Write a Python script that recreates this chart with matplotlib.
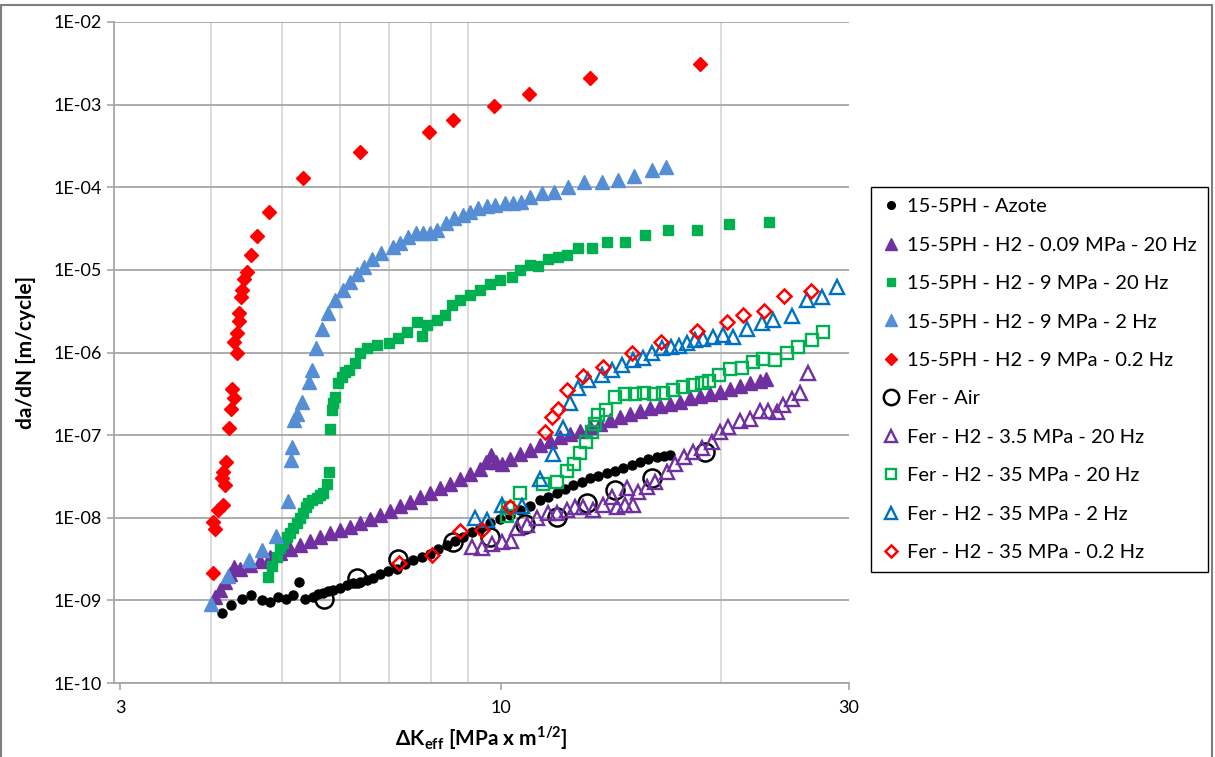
import math
import matplotlib
matplotlib.use("Agg")
import matplotlib.pyplot as plt
from matplotlib.ticker import FixedLocator, FuncFormatter, NullLocator
from matplotlib.patches import Rectangle

# ---- data ----------------------------------------------------------------
# 15-5PH - Azote
azote_dk = [4.13, 4.26, 4.40, 4.54, 4.69, 4.81, 4.94, 5.07, 5.18, 5.27, 5.38, 5.52,
            5.60, 5.70, 5.78, 5.88, 6.00, 6.13, 6.26, 6.40, 6.53, 6.67, 6.81, 6.99,
            7.18, 7.37, 7.57, 7.77, 7.98, 8.18, 8.41, 8.64, 8.87, 9.10, 9.35, 9.65,
            9.96, 10.28, 10.61, 10.95, 11.30, 11.59, 11.91, 12.23, 12.55, 12.89,
            13.23, 13.57, 13.95, 14.32, 14.70, 15.10, 15.50, 15.89, 16.34, 16.72, 17.04]
azote_da = [7.0e-10, 8.7e-10, 1.05e-9, 1.16e-9, 1.01e-9, 9.6e-10, 1.10e-9, 1.05e-9,
            1.16e-9, 1.66e-9, 1.05e-9, 1.10e-9, 1.19e-9, 1.22e-9, 1.29e-9, 1.33e-9,
            1.42e-9, 1.53e-9, 1.61e-9, 1.68e-9, 1.75e-9, 1.84e-9, 2.07e-9, 2.26e-9,
            2.43e-9, 2.74e-9, 3.07e-9, 3.33e-9, 3.69e-9, 4.17e-9, 4.66e-9, 5.21e-9,
            5.87e-9, 6.69e-9, 7.48e-9, 8.60e-9, 9.61e-9, 1.07e-8, 1.24e-8, 1.40e-8,
            1.63e-8, 1.77e-8, 1.97e-8, 2.22e-8, 2.48e-8, 2.72e-8, 2.99e-8, 3.19e-8,
            3.44e-8, 3.66e-8, 3.95e-8, 4.33e-8, 4.75e-8, 5.12e-8, 5.46e-8, 5.64e-8, 5.72e-8]

# 15-5PH - H2 - 0.09 MPa - 20 Hz
h009_dk = [4.05, 4.11, 4.18, 4.24, 4.30, 4.38, 4.52, 4.67, 4.81, 4.97, 5.13, 5.29,
           5.46, 5.64, 5.82, 6.00, 6.20, 6.40, 6.60, 6.81, 7.03, 7.26, 7.49, 7.73,
           7.98, 8.24, 8.50, 8.78, 9.06, 9.35, 9.53, 9.68, 9.83, 10.02, 10.28, 10.61,
           10.95, 11.30, 11.66, 12.03, 12.42, 12.82, 13.23, 13.66, 14.09, 14.55, 15.01,
           15.50, 15.99, 16.51, 17.04, 17.59, 18.15, 18.74, 19.34, 19.96, 20.60, 21.26,
           21.94, 22.65, 23.07]
h009_da = [1.09e-9, 1.33e-9, 1.66e-9, 2.07e-9, 2.52e-9, 2.39e-9, 2.67e-9, 2.98e-9,
           3.33e-9, 3.73e-9, 4.17e-9, 4.66e-9, 5.21e-9, 5.82e-9, 6.50e-9, 7.07e-9,
           7.69e-9, 8.60e-9, 9.61e-9, 1.07e-8, 1.20e-8, 1.38e-8, 1.54e-8, 1.77e-8,
           1.98e-8, 2.28e-8, 2.55e-8, 2.93e-8, 3.37e-8, 3.88e-8, 4.71e-8, 5.72e-8,
           4.71e-8, 4.45e-8, 5.12e-8, 5.89e-8, 6.58e-8, 7.56e-8, 8.45e-8, 9.45e-8,
           1.03e-7, 1.12e-7, 1.25e-7, 1.36e-7, 1.52e-7, 1.65e-7, 1.79e-7, 1.95e-7,
           2.12e-7, 2.24e-7, 2.37e-7, 2.51e-7, 2.80e-7, 2.96e-7, 3.13e-7, 3.31e-7,
           3.60e-7, 3.92e-7, 4.26e-7, 4.50e-7, 4.76e-7]

# 15-5PH - H2 - 9 MPa - 20 Hz
h9_20_dk = [4.79, 4.84, 4.92, 4.97, 5.02, 5.08, 5.13, 5.18, 5.24, 5.29, 5.35, 5.39,
            5.43, 5.50, 5.58, 5.64, 5.70, 5.76, 5.80, 5.82, 5.85, 5.88, 5.91, 5.97,
            6.04, 6.10, 6.17, 6.30, 6.40, 6.53, 6.74, 7.00, 7.22, 7.41, 7.65, 7.77,
            7.90, 8.15, 8.37, 8.55, 8.78, 9.06, 9.35, 9.65, 9.96, 10.33, 10.61, 10.95,
            11.24, 11.60, 11.97, 12.29, 12.76, 13.30, 13.96, 14.78, 15.72, 16.95,
            18.54, 20.55, 23.27]
h9_20_da = [1.92e-9, 2.59e-9, 3.36e-9, 4.28e-9, 4.88e-9, 5.82e-9, 6.45e-9, 7.48e-9,
            8.53e-9, 9.88e-9, 1.13e-8, 1.34e-8, 1.49e-8, 1.63e-8, 1.71e-8, 1.88e-8,
            1.97e-8, 2.55e-8, 3.59e-8, 1.20e-7, 2.01e-7, 2.44e-7, 2.91e-7, 4.22e-7,
            5.08e-7, 5.79e-7, 6.12e-7, 7.38e-7, 9.75e-7, 1.12e-6, 1.23e-6, 1.29e-6,
            1.48e-6, 1.78e-6, 2.35e-6, 1.58e-6, 2.15e-6, 2.47e-6, 2.84e-6, 3.75e-6,
            4.31e-6, 4.95e-6, 5.69e-6, 6.73e-6, 7.52e-6, 8.18e-6, 9.94e-6, 1.14e-5,
            1.10e-5, 1.35e-5, 1.44e-5, 1.53e-5, 1.82e-5, 1.84e-5, 2.17e-5, 2.17e-5,
            2.68e-5, 3.03e-5, 3.03e-5, 3.58e-5, 3.76e-5]

# 15-5PH - H2 - 9 MPa - 2 Hz
h9_2_dk = [4.00, 4.21, 4.50, 4.70, 4.91, 5.10, 5.14, 5.16, 5.19, 5.24, 5.33, 5.44,
           5.50, 5.57, 5.68, 5.78, 5.91, 6.06, 6.20, 6.34, 6.48, 6.65, 6.84, 7.09,
           7.27, 7.44, 7.63, 7.80, 7.98, 8.15, 8.39, 8.62, 8.85, 9.06, 9.30, 9.55,
           9.80, 10.12, 10.36, 10.63, 10.95, 11.36, 11.81, 12.33, 12.99, 13.73, 14.47,
           15.21, 16.08, 16.82]
h9_2_da = [9.1e-10, 1.99e-9, 3.07e-9, 4.05e-9, 5.98e-9, 1.59e-8, 4.98e-8, 7.16e-8,
           1.52e-7, 1.79e-7, 2.53e-7, 4.42e-7, 6.12e-7, 1.13e-6, 1.95e-6, 3.00e-6,
           4.37e-6, 5.69e-6, 7.18e-6, 8.89e-6, 1.07e-5, 1.34e-5, 1.61e-5, 1.90e-5,
           2.09e-5, 2.52e-5, 2.81e-5, 2.81e-5, 2.81e-5, 3.03e-5, 3.72e-5, 4.20e-5,
           4.61e-5, 5.05e-5, 5.55e-5, 5.92e-5, 6.17e-5, 6.38e-5, 6.44e-5, 6.67e-5,
           7.67e-5, 8.58e-5, 8.82e-5, 1.01e-4, 1.17e-4, 1.17e-4, 1.22e-4, 1.37e-4,
           1.61e-4, 1.74e-4]

# 15-5PH - H2 - 9 MPa - 0.2 Hz
h9_02_dk = [4.02, 4.02, 4.05, 4.09, 4.13, 4.15, 4.15, 4.18, 4.19, 4.23, 4.25, 4.27,
            4.29, 4.33, 4.30, 4.33, 4.36, 4.36, 4.39, 4.40, 4.43, 4.48, 4.53, 4.62,
            4.80, 5.35, 6.40, 7.95, 8.59, 9.77, 10.92, 13.23, 18.74]
h9_02_da = [8.9e-9, 2.12e-9, 7.4e-9, 1.24e-8, 2.99e-8, 3.6e-8, 1.42e-8, 2.48e-8,
            4.67e-8, 1.23e-7, 2.06e-7, 3.61e-7, 2.78e-7, 9.75e-7, 1.35e-6, 1.70e-6,
            2.40e-6, 2.97e-6, 4.64e-6, 5.69e-6, 7.68e-6, 9.5e-6, 1.51e-5, 2.55e-5,
            4.97e-5, 1.30e-4, 2.64e-4, 4.69e-4, 6.58e-4, 9.6e-4, 1.33e-3, 2.12e-3, 3.10e-3]

# Fer - Air
air_dk = [5.71, 6.33, 7.22, 8.59, 9.65, 10.78, 11.91, 13.09, 14.32, 16.08, 19.04]
air_da = [1.05e-9, 1.84e-9, 3.13e-9, 5.11e-9, 5.87e-9, 8.36e-9, 1.03e-8, 1.49e-8,
          2.16e-8, 2.99e-8, 6.28e-8]

# Fer - H2 - 3.5 MPa - 20 Hz
f35_20_dk = [9.10, 9.40, 9.70, 10.01, 10.30, 10.51, 10.83, 11.18, 11.60, 11.91, 12.29,
             12.62, 12.96, 13.37, 13.80, 14.17, 14.39, 14.78, 14.86, 15.18, 15.41, 15.83,
             16.25, 16.86, 17.31, 17.81, 18.34, 18.84, 19.44, 19.96, 20.48, 21.26, 21.94,
             22.65, 23.24, 23.87, 24.38, 25.03, 25.70, 26.38]
f35_20_da = [4.44e-9, 4.28e-9, 4.79e-9, 5.06e-9, 5.21e-9, 7.48e-9, 8.13e-9, 9.80e-9,
             1.13e-8, 1.13e-8, 1.24e-8, 1.35e-8, 1.35e-8, 1.24e-8, 1.42e-8, 1.79e-8,
             1.35e-8, 1.42e-8, 2.26e-8, 1.42e-8, 2.06e-8, 2.37e-8, 2.72e-8, 3.59e-8,
             4.45e-8, 5.46e-8, 6.28e-8, 7.06e-8, 8.29e-8, 1.10e-7, 1.26e-7, 1.48e-7,
             1.56e-7, 1.95e-7, 1.98e-7, 1.91e-7, 2.31e-7, 2.73e-7, 3.20e-7, 5.58e-7]

# Fer - H2 - 35 MPa - 20 Hz
f350_20_dk = [10.17, 10.22, 10.61, 11.42, 11.91, 12.29, 12.58, 12.84, 13.07, 13.30,
              13.45, 13.57, 13.92, 14.32, 14.78, 15.25, 15.69, 16.20, 16.67, 17.22,
              17.77, 18.30, 18.84, 19.28, 19.90, 20.60, 21.37, 22.12, 22.88, 23.74,
              24.63, 25.56, 26.66, 27.66]
f350_20_da = [1.05e-8, 1.32e-8, 1.97e-8, 2.55e-8, 2.72e-8, 3.66e-8, 4.45e-8, 6.14e-8,
              8.29e-8, 1.10e-7, 1.38e-7, 1.74e-7, 2.01e-7, 2.91e-7, 3.13e-7, 3.13e-7,
              3.20e-7, 3.13e-7, 3.27e-7, 3.50e-7, 3.84e-7, 4.03e-7, 4.22e-7, 4.50e-7,
              5.32e-7, 6.29e-7, 6.42e-7, 7.72e-7, 8.31e-7, 8.09e-7, 9.97e-7, 1.17e-6,
              1.41e-6, 1.78e-6]

# Fer - H2 - 35 MPa - 2 Hz
f350_2_dk = [9.20, 9.55, 10.02, 10.66, 11.30, 11.79, 12.16, 12.42, 12.76, 13.16, 13.73,
             14.17, 14.63, 15.18, 15.66, 16.08, 16.60, 17.09, 17.53, 17.98, 18.44, 18.93,
             19.54, 20.16, 20.81, 21.74, 22.77, 23.61, 25.06, 26.31, 27.52, 28.86]
f350_2_da = [9.80e-9, 9.35e-9, 1.42e-8, 1.38e-8, 2.93e-8, 5.89e-8, 1.23e-7, 2.42e-7,
             3.67e-7, 4.63e-7, 5.32e-7, 6.12e-7, 7.04e-7, 8.09e-7, 8.48e-7, 9.75e-7,
             1.12e-6, 1.15e-6, 1.20e-6, 1.29e-6, 1.41e-6, 1.45e-6, 1.55e-6, 1.62e-6,
             1.55e-6, 1.92e-6, 2.25e-6, 2.47e-6, 2.76e-6, 4.31e-6, 4.72e-6, 6.24e-6]

# Fer - H2 - 35 MPa - 0.2 Hz
f350_02_dk = [7.23, 8.02, 8.78, 9.41, 10.27, 11.48, 11.72, 11.97, 12.32, 12.96, 13.77,
              15.10, 16.58, 18.57, 20.38, 21.48, 22.93, 24.45, 26.58]
f350_02_da = [2.80e-9, 3.52e-9, 6.82e-9, 7.17e-9, 1.34e-8, 1.10e-7, 1.66e-7, 2.10e-7,
              3.50e-7, 5.18e-7, 6.71e-7, 9.75e-7, 1.35e-6, 1.83e-6, 2.35e-6, 2.84e-6,
              3.20e-6, 4.82e-6, 5.58e-6]

# ---- fonts ---------------------------------------------------------------
plt.rcParams['font.family'] = ['Lato', 'DejaVu Sans']
plt.rcParams['mathtext.fontset'] = 'custom'
plt.rcParams['mathtext.rm'] = 'Lato'
plt.rcParams['mathtext.bf'] = 'Lato:bold'

fig = plt.figure(figsize=(12.15, 7.57), dpi=100)
ax = fig.add_axes([114 / 1215, 1 - 683 / 757, (849 - 114) / 1215, (683 - 22) / 757])

# ---- series (Excel draw order = legend order) ------------------------------
series = [
    (azote_dk, azote_da, '15-5PH - Azote',
     dict(marker='o', ms=6.5, color='black', mfc='black', mec='black')),
    (h009_dk, h009_da, '15-5PH - H2 - 0.09 MPa - 20 Hz',
     dict(marker='^', ms=10, color='#7030A0', mfc='#7030A0', mec='#7030A0')),
    (h9_20_dk, h9_20_da, '15-5PH - H2 - 9 MPa - 20 Hz',
     dict(marker='s', ms=7.5, color='#00B050', mfc='#00B050', mec='#00B050')),
    (h9_2_dk, h9_2_da, '15-5PH - H2 - 9 MPa - 2 Hz',
     dict(marker='^', ms=10, color='#558ED5', mfc='#558ED5', mec='#558ED5')),
    (h9_02_dk, h9_02_da, '15-5PH - H2 - 9 MPa - 0.2 Hz',
     dict(marker='D', ms=7.5, color='#FF0000', mfc='#FF0000', mec='#FF0000')),
    (air_dk, air_da, 'Fer - Air',
     dict(marker='o', ms=13, color='black', mfc='none', mec='black', mew=1.8)),
    (f35_20_dk, f35_20_da, 'Fer - H2 - 3.5 MPa - 20 Hz',
     dict(marker='^', ms=9.5, color='#7030A0', mfc='none', mec='#7030A0', mew=1.7)),
    (f350_20_dk, f350_20_da, 'Fer - H2 - 35 MPa - 20 Hz',
     dict(marker='s', ms=8.5, color='#00B050', mfc='none', mec='#00B050', mew=1.7)),
    (f350_2_dk, f350_2_da, 'Fer - H2 - 35 MPa - 2 Hz',
     dict(marker='^', ms=9.5, color='#0070C0', mfc='none', mec='#0070C0', mew=1.7)),
    (f350_02_dk, f350_02_da, 'Fer - H2 - 35 MPa - 0.2 Hz',
     dict(marker='D', ms=7.5, color='#FF0000', mfc='none', mec='#FF0000', mew=1.8)),
]

for z, (xs, ys, lab, st) in enumerate(series):
    ax.plot(xs, ys, linestyle='none', label=lab, zorder=3 + z, **st)

# ---- axes ----------------------------------------------------------------
ax.set_xscale('log')
ax.set_yscale('log')
ax.set_xlim(2.94, 30)
ax.set_ylim(1e-10, 1e-2)

ax.xaxis.set_major_locator(FixedLocator([3, 10, 30]))
ax.xaxis.set_major_formatter(FuncFormatter(lambda v, p: f"{v:g}"))
ax.xaxis.set_minor_locator(FixedLocator([4, 5, 6, 7, 8, 9, 10, 20]))
ax.yaxis.set_major_locator(FixedLocator([10.0 ** e for e in range(-10, -1)]))
ax.yaxis.set_major_formatter(FuncFormatter(lambda v, p: f"1E-{abs(round(math.log10(v))):02d}"))
ax.yaxis.set_minor_locator(NullLocator())

ax.grid(which='minor', axis='x', color='#D9D9D9', lw=1.3, zorder=0)
ax.grid(which='major', axis='y', color='#A6A6A6', lw=1.3, zorder=0)
ax.set_axisbelow(True)

for s in ('top', 'right'):
    ax.spines[s].set_visible(False)
for s in ('left', 'bottom'):
    ax.spines[s].set_color('#A6A6A6')
    ax.spines[s].set_linewidth(1.3)

ax.tick_params(axis='both', which='major', direction='out', length=5, width=1.2,
               color='#A6A6A6', labelsize=13, labelcolor='black', pad=4)
ax.tick_params(axis='x', which='minor', length=0)
ax.tick_params(axis='x', which='major', pad=7)

ax.set_ylabel('da/dN [m/cycle]', fontsize=15, fontweight='bold', labelpad=12)
ax.set_xlabel(r'ΔK$_{\mathbf{eff}}$ [MPa x m$^{\mathbf{1/2}}$]', fontsize=15,
              fontweight='bold', labelpad=6)

# ---- legend --------------------------------------------------------------
leg = fig.legend(loc='upper left', bbox_to_anchor=(871 / 1215, 1 - 187 / 757),
                 fontsize=14.5, frameon=True, fancybox=False, edgecolor='black',
                 framealpha=1, borderpad=0.55, labelspacing=1.06,
                 handlelength=0.9, handletextpad=0.35, borderaxespad=0,
                 markerscale=0.85)
leg.get_frame().set_linewidth(1.0)

# outer chart border
fig.patches.append(Rectangle((1 / 1215, -0.01), 1211 / 1215, 1 - 5 / 757 + 0.01,
                             transform=fig.transFigure, fill=False,
                             edgecolor='#7F7F7F', lw=1.5))

fig.savefig('out.png', dpi=100)
